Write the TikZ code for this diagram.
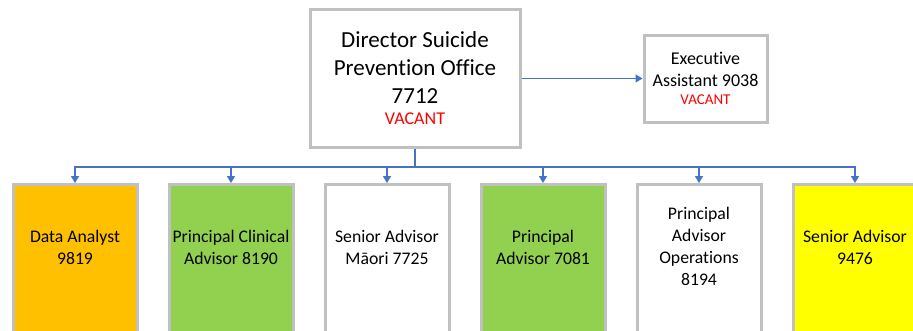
\documentclass[tikz,border=0pt]{standalone}
\usepackage{fontspec}
\setmainfont[Ligatures=NoCommon]{Carlito}
\usetikzlibrary{arrows.meta}
\definecolor{boxgray}{HTML}{C0C0C0}
\definecolor{linkblue}{HTML}{4472C4}
\definecolor{orgorange}{HTML}{FFC000}
\definecolor{orggreen}{HTML}{92D050}
\definecolor{orgyellow}{HTML}{FFFF00}
\definecolor{vacred}{HTML}{FF0000}
\begin{document}
\begin{tikzpicture}[x=1pt,y=-1pt,
  box/.style={draw=boxgray, line width=3pt, inner sep=0pt},
  posbox/.style={box, anchor=north, minimum width=124pt, minimum height=170pt},
  wire/.style={draw=linkblue, line width=1.3pt},
  conn/.style={wire, -{Triangle[length=7pt,width=8pt]}},
  txt/.style={align=center, inner sep=0pt, text=black},
  bigtxt/.style={txt, font=\fontsize{23}{28}\selectfont},
  midtxt/.style={txt, font=\fontsize{18}{22}\selectfont},
  postxt/.style={txt, font=\fontsize{17.7}{21.8}\selectfont},
  vac/.style={txt, text=vacred},
]
\useasboundingbox (0,0) rectangle (913,330);
\clip (0,0) rectangle (913,330);
\fill[white] (0,0) rectangle (913,330);

% top boxes
\node[box, minimum width=210pt, minimum height=138pt] (dir) at (415,78.5) {};
\node[bigtxt] (dirtxt) at (415,68) {Director Suicide\\Prevention Office\\7712};
\node[vac, font=\fontsize{18}{22}\selectfont] (dirvac) at (415,119) {VACANT};

\node[box, minimum width=123pt, minimum height=87pt] (exec) at (705.5,78.5) {};
\node[midtxt] (exectxt) at (705.5,69) {Executive\\Assistant 9038};
\node[vac, font=\fontsize{15}{18}\selectfont] (execvac) at (705.5,100) {VACANT};

% positions
\node[posbox, fill=orgorange] (b1) at (75,183) {};
\node[posbox, fill=orggreen] (b2) at (231,183) {};
\node[posbox, fill=white] (b3) at (387,183) {};
\node[posbox, fill=orggreen] (b4) at (543,183) {};
\node[posbox, fill=white] (b5) at (699,183) {};
\node[posbox, fill=orgyellow] (b6) at (855,183) {};

\node[postxt] (t1) at (75,247.5) {Data Analyst\\9819};
\node[postxt] (t2) at (231,247.5) {Principal Clinical\\Advisor 8190};
\node[postxt] (t3) at (387,247.5) {Senior Advisor\\Māori 7725};
\node[postxt] (t4) at (543,247.5) {Principal\\Advisor 7081};
\node[postxt] (t5) at (699,246.5) {Principal\\Advisor\\Operations\\8194};
\node[postxt] (t6) at (855,247.5) {Senior Advisor\\9476};

% connectors
\draw[conn] (dir.east) -- (exec.west);
\coordinate (bus) at (415,167);
\draw[wire] (dir.south) -- (bus);
\foreach \b in {b1,b2,b3,b4,b5,b6}
  \draw[conn] (bus) -| (\b.north);
\end{tikzpicture}
\end{document}
